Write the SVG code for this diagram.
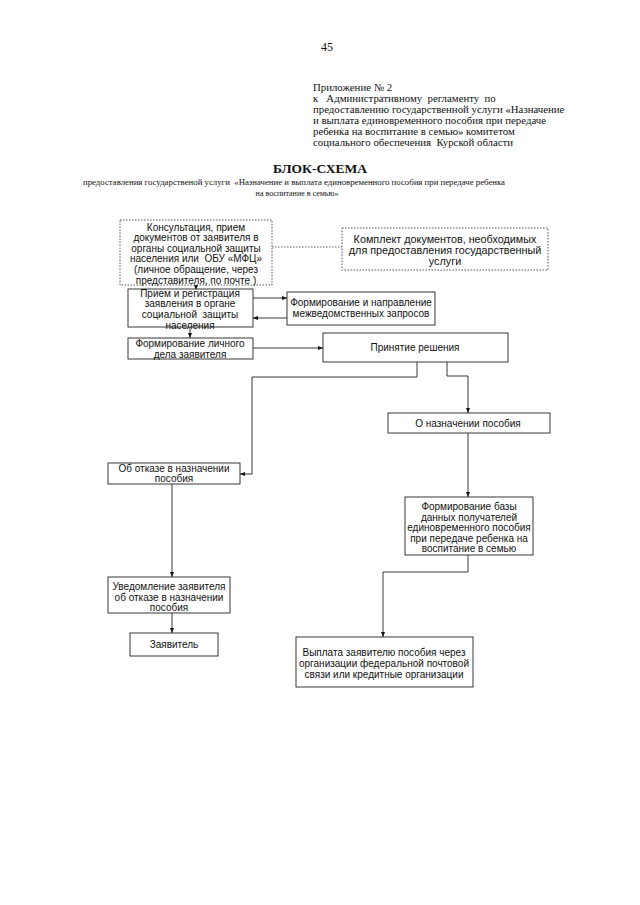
<svg xmlns="http://www.w3.org/2000/svg" width="640" height="905" viewBox="0 0 640 905">
<defs>
<style>
.hdr{font-family:"Liberation Serif","Times New Roman",serif;fill:#111}
.bx{fill:#fff;stroke:#222;stroke-width:0.9}
.dot{fill:#fff;stroke:#444;stroke-width:0.9;stroke-dasharray:1.5,1.5}
.t{font-family:"Liberation Sans",Arial,sans-serif;font-size:10px;fill:#111;text-anchor:middle}
.ln{fill:none;stroke:#222;stroke-width:0.9}
.dl{fill:none;stroke:#555;stroke-width:0.9;stroke-dasharray:1.5,1.5}
</style>
<marker id="ah" viewBox="0 0 10 10" refX="10" refY="5" markerWidth="5" markerHeight="5" orient="auto" markerUnits="userSpaceOnUse">
<path d="M0,1 L10,5 L0,9 Z" fill="#111"/>
</marker>
</defs>
<rect width="640" height="905" fill="#fff"/>
<g id="header">
<text class="hdr" x="327" y="51" font-size="12" text-anchor="middle">45</text>
<text class="hdr" font-size="10.8" xml:space="preserve"><tspan x="313" y="91">Приложение № 2</tspan><tspan x="313" y="102">к   Административному  регламенту  по</tspan><tspan x="313" y="113">предоставлению государственной услуги «Назначение</tspan><tspan x="313" y="124">и выплата единовременного пособия при передаче</tspan><tspan x="313" y="135">ребенка на воспитание в семью» комитетом</tspan><tspan x="313" y="146">социального обеспечения  Курской области</tspan></text>
<text class="hdr" x="320" y="173" font-size="13.5" font-weight="bold" text-anchor="middle">БЛОК-СХЕМА</text>
<text class="hdr" x="83" y="185" font-size="8" textLength="422" lengthAdjust="spacingAndGlyphs" xml:space="preserve">предоставления государственой услуги  «Назначение и выплата единовременного пособия при передаче ребенка</text>
<text class="hdr" x="297" y="196" font-size="8" text-anchor="middle">на воспитание в семью»</text>
</g>
<g id="connectors">
<path class="dl" d="M272,247 H342"/>
<path class="ln" d="M196,285 V290" marker-end="url(#ah)"/>
<path class="ln" d="M253,298 H287" marker-end="url(#ah)"/>
<path class="ln" d="M287,318 H253" marker-end="url(#ah)"/>
<path class="ln" d="M190,327 V338" marker-end="url(#ah)"/>
<path class="ln" d="M253,348 H323" marker-end="url(#ah)"/>
<path class="ln" d="M417,362 V377 H252 V474 H240" marker-end="url(#ah)"/>
<path class="ln" d="M447,362 V376 H468 V413" marker-end="url(#ah)"/>
<path class="ln" d="M468,433 V497" marker-end="url(#ah)"/>
<path class="ln" d="M468,555 V572 H383 V637" marker-end="url(#ah)"/>
<path class="ln" d="M172,484 V577" marker-end="url(#ah)"/>
<path class="ln" d="M172,613 V633" stroke="#666" marker-end="url(#ah)"/>
</g>
<g id="n_konsult">
<rect class="dot" x="120" y="220" width="152" height="65"/>
<text class="t" xml:space="preserve"><tspan x="196" y="230.5">Консультация, прием</tspan><tspan x="196" y="241.1">документов от заявителя в</tspan><tspan x="196" y="251.7">органы социальной защиты</tspan><tspan x="196" y="262.3">населения или  ОБУ «МФЦ»</tspan><tspan x="196" y="272.9">(личное обращение, через</tspan><tspan x="196" y="283.5">представителя, по почте )</tspan></text>
</g>
<g id="n_komplekt">
<rect class="dot" x="342" y="228" width="206" height="42"/>
<text class="t" font-size="10.8" style="font-size:10.8px"><tspan x="445" y="243">Комплект документов, необходимых</tspan><tspan x="445" y="254">для предоставления государственный</tspan><tspan x="445" y="265">услуги</tspan></text>
</g>
<g id="n_priem">
<rect class="bx" x="128" y="289" width="125" height="38"/>
<text class="t" xml:space="preserve"><tspan x="190" y="296.5">Прием и регистрация</tspan><tspan x="190" y="307.2">заявления в органе</tspan><tspan x="190" y="317.9">социальной  защиты</tspan><tspan x="190" y="328.6">населения</tspan></text>
</g>
<g id="n_zapros">
<rect class="bx" x="287" y="292" width="148" height="33"/>
<text class="t"><tspan x="361" y="306">Формирование и направление</tspan><tspan x="361" y="317">межведомственных запросов</tspan></text>
</g>
<g id="n_delo">
<rect class="bx" x="128" y="338" width="125" height="21"/>
<text class="t"><tspan x="190" y="347">Формирование личного</tspan><tspan x="190" y="358">дела заявителя</tspan></text>
</g>
<g id="n_reshenie">
<rect class="bx" x="323" y="333" width="185" height="29"/>
<text class="t" x="415" y="351">Принятие решения</text>
</g>
<g id="n_otkaz">
<rect class="bx" x="108" y="463" width="132" height="21"/>
<text class="t"><tspan x="174" y="471.5">Об отказе в назначении</tspan><tspan x="174" y="482.3">пособия</tspan></text>
</g>
<g id="n_naznach">
<rect class="bx" x="388" y="413" width="162" height="20"/>
<text class="t" x="468" y="426.5">О назначении пособия</text>
</g>
<g id="n_baza">
<rect class="bx" x="405" y="497" width="128" height="58"/>
<text class="t"><tspan x="469" y="510">Формирование базы</tspan><tspan x="469" y="520.5">данных получателей</tspan><tspan x="469" y="531">единовременного пособия</tspan><tspan x="469" y="541.5">при передаче ребенка на</tspan><tspan x="469" y="552">воспитание в семью</tspan></text>
</g>
<g id="n_uved">
<rect class="bx" x="108" y="577" width="122" height="36"/>
<text class="t"><tspan x="169" y="590">Уведомление заявителя</tspan><tspan x="169" y="600.5">об отказе в назначении</tspan><tspan x="169" y="611">пособия</tspan></text>
</g>
<g id="n_zayav">
<rect class="bx" x="130" y="633" width="88" height="23"/>
<text class="t" x="174" y="648">Заявитель</text>
</g>
<g id="n_vyplata">
<rect class="bx" x="296" y="637" width="177" height="50"/>
<text class="t"><tspan x="384" y="656">Выплата заявителю пособия через</tspan><tspan x="384" y="667">организации федеральной почтовой</tspan><tspan x="384" y="678">связи или кредитные организации</tspan></text>
</g>
</svg>
